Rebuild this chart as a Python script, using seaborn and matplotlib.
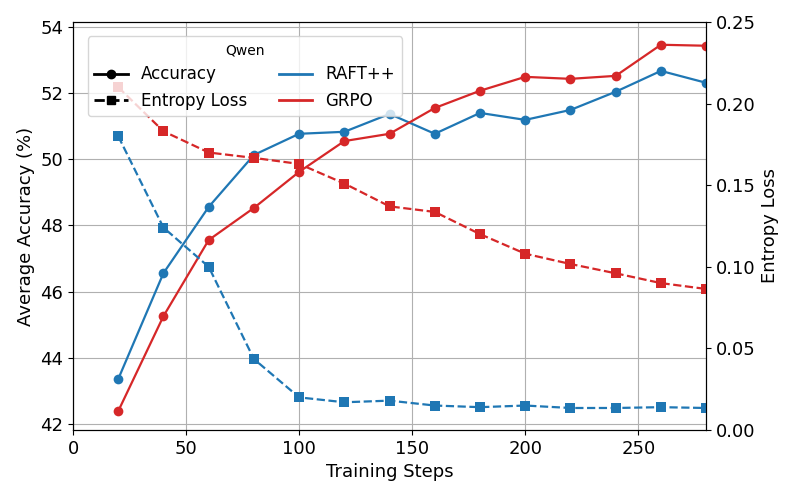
import pandas as pd
import numpy as np
import matplotlib
matplotlib.use("Agg")
import matplotlib.pyplot as plt
from matplotlib.lines import Line2D
import seaborn as sns

# data
steps = [20, 40, 60, 80, 100, 120, 140, 160, 180, 200, 220, 240, 260, 280]
raft_acc = [43.36, 46.56, 48.56, 50.13, 50.77, 50.83, 51.37, 50.77, 51.40, 51.19, 51.49, 52.04, 52.67, 52.31]
grpo_acc = [42.39, 45.26, 47.56, 48.53, 49.62, 50.55, 50.77, 51.55, 52.07, 52.49, 52.43, 52.52, 53.46, 53.43]
raft_ent = [0.180, 0.124, 0.100, 0.0435, 0.020, 0.017, 0.018, 0.015, 0.014, 0.015, 0.0135, 0.0135, 0.014, 0.0135]
grpo_ent = [0.210, 0.183, 0.170, 0.1667, 0.163, 0.151, 0.137, 0.1336, 0.120, 0.108, 0.1017, 0.096, 0.090, 0.0864]

blue = "#1f77b4"
red = "#d62728"

df = pd.DataFrame({
    "step": steps * 2,
    "acc": raft_acc + grpo_acc,
    "ent": raft_ent + grpo_ent,
    "method": ["RAFT++"] * len(steps) + ["GRPO"] * len(steps),
})
palette = {"RAFT++": blue, "GRPO": red}

fig, ax = plt.subplots(figsize=(7.97, 4.98), dpi=100)
fig.subplots_adjust(left=0.0916, right=0.886, top=0.956, bottom=0.1365)
ax2 = ax.twinx()

for m in ["RAFT++", "GRPO"]:
    sub = df[df["method"] == m]
    sns.lineplot(x="step", y="acc", data=sub, ax=ax, color=palette[m], marker="o",
                 markersize=7, markeredgewidth=0, linewidth=1.6)
    sns.lineplot(x="step", y="ent", data=sub, ax=ax2, color=palette[m], marker="s",
                 markersize=7, markeredgewidth=0, linewidth=1.6, linestyle="--")

ax.set_xlim(0, 280)
ax.set_ylim(41.82, 54.15)
ax.set_yticks([42, 44, 46, 48, 50, 52, 54])
ax.set_xticks([0, 50, 100, 150, 200, 250])
ax2.set_ylim(0, 0.25)
ax2.set_yticks([0, 0.05, 0.10, 0.15, 0.20, 0.25])
ax2.set_yticklabels(["0.00", "0.05", "0.10", "0.15", "0.20", "0.25"])

ax.grid(True, color="#b0b0b0", linewidth=0.8)
ax.set_xlabel("Training Steps", fontsize=13)
ax.set_ylabel("Average Accuracy (%)", fontsize=13)
ax2.set_ylabel("Entropy Loss", fontsize=13)
ax.tick_params(labelsize=13)
ax2.tick_params(labelsize=13)

handles = [
    Line2D([], [], color="black", marker="o", linewidth=2, markersize=6),
    Line2D([], [], color="black", marker="s", linewidth=2, markersize=6, linestyle="--"),
    Line2D([], [], color=blue, linewidth=2),
    Line2D([], [], color=red, linewidth=2),
]
labels = ["Accuracy", "Entropy Loss", "RAFT++", "GRPO"]
leg = ax2.legend(handles, labels, title="Qwen", ncol=2, loc="upper left",
                 bbox_to_anchor=(0.01, 0.985), fontsize=12, title_fontsize=10,
                 columnspacing=1.9)

fig.savefig("out.png", dpi=100)
